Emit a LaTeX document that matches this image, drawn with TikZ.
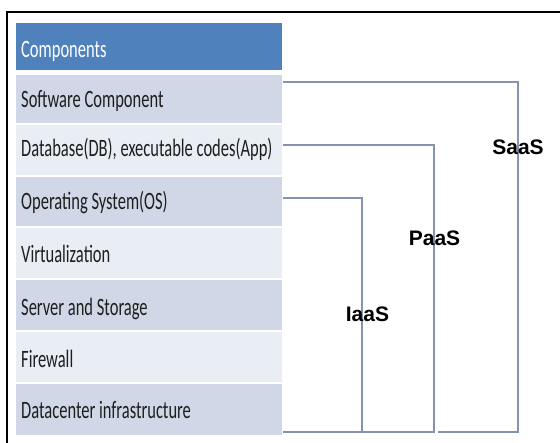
\documentclass[tikz,border=0pt]{standalone}
\usepackage{fontspec}
\setmainfont{Carlito}
\newfontfamily\labfont{Liberation Sans}
\definecolor{hdrblue}{RGB}{79,129,189}
\definecolor{rowA}{RGB}{208,216,232}
\definecolor{rowB}{RGB}{233,237,244}
\definecolor{linecol}{RGB}{132,148,176}
\definecolor{txtcol}{RGB}{30,30,30}
\newcommand{\rtext}[1]{\scalebox{0.66}[1]{\fontsize{25}{25}\selectfont #1}}
\tikzset{
  rowbox/.style={draw=none, inner sep=0pt, minimum width=266pt, anchor=center},
  rowtext/.style={anchor=base west, inner sep=0pt, text=txtcol},
  bracket/.style={draw=linecol, line width=1.4pt},
  svclabel/.style={anchor=base, inner sep=0pt, font=\labfont\bfseries\fontsize{21}{21}\selectfont},
  frameline/.style={draw=black, line width=2pt}
}
\begin{document}
\begin{tikzpicture}[x=1pt,y=-1pt]
\useasboundingbox (0,0) rectangle (560,443);
\fill[white] (0,0) rectangle (560,443);
% frame
\draw[frameline] (7,443) -- (7,12) -- (560,12);
% table
\node[rowbox, fill=hdrblue, minimum height=47pt] (hdr) at (149,46.5) {};
\node[rowbox, fill=rowA, minimum height=48.5pt] (r1) at (149,99.25) {};
\node[rowbox, fill=rowB, minimum height=50.5pt] (r2) at (149,150.25) {};
\node[rowbox, fill=rowA, minimum height=49.5pt] (r3) at (149,201.75) {};
\node[rowbox, fill=rowB, minimum height=50.5pt] (r4) at (149,253.25) {};
\node[rowbox, fill=rowA, minimum height=50.5pt] (r5) at (149,305.25) {};
\node[rowbox, fill=rowB, minimum height=50.5pt] (r6) at (149,357.25) {};
\node[rowbox, fill=rowA, minimum height=51pt] (r7) at (149,409.5) {};
% texts
\node[rowtext, text=white] (th) at (21,58) {\rtext{Components}};
\node[rowtext] (t1) at (21,108) {\rtext{Software Component}};
\node[rowtext] (t2) at (21,157) {\rtext{Database(DB), executable codes(App)}};
\node[rowtext] (t3) at (21,210) {\rtext{Operating System(OS)}};
\node[rowtext] (t4) at (21,263) {\rtext{Virtualization}};
\node[rowtext] (t5) at (21,316) {\rtext{Server and Storage}};
\node[rowtext] (t6) at (21,368) {\rtext{Firewall}};
\node[rowtext] (t7) at (21,419) {\rtext{Datacenter infrastructure}};
% bracket coordinates
\coordinate (saasTop) at (283,82);
\coordinate (saasBot) at (518,432);
\coordinate (saasEnd) at (438,432);
\coordinate (paasTop) at (283,145);
\coordinate (paasBot) at (434,432);
\coordinate (paasEnd) at (363,432);
\coordinate (iaasTop) at (283,198);
\coordinate (iaasBot) at (362,432);
\coordinate (iaasEnd) at (283,432);
\draw[bracket] (saasTop) -| (saasBot) -- (saasEnd);
\draw[bracket] (paasTop) -| (paasBot) -- (paasEnd);
\draw[bracket] (iaasTop) -| (iaasBot) -- (iaasEnd);
% labels
\node[svclabel] (saas) at (518,155) {SaaS};
\node[svclabel] (paas) at (434.5,246) {PaaS};
\node[svclabel] (iaas) at (367.5,321.5) {IaaS};
\end{tikzpicture}
\end{document}
